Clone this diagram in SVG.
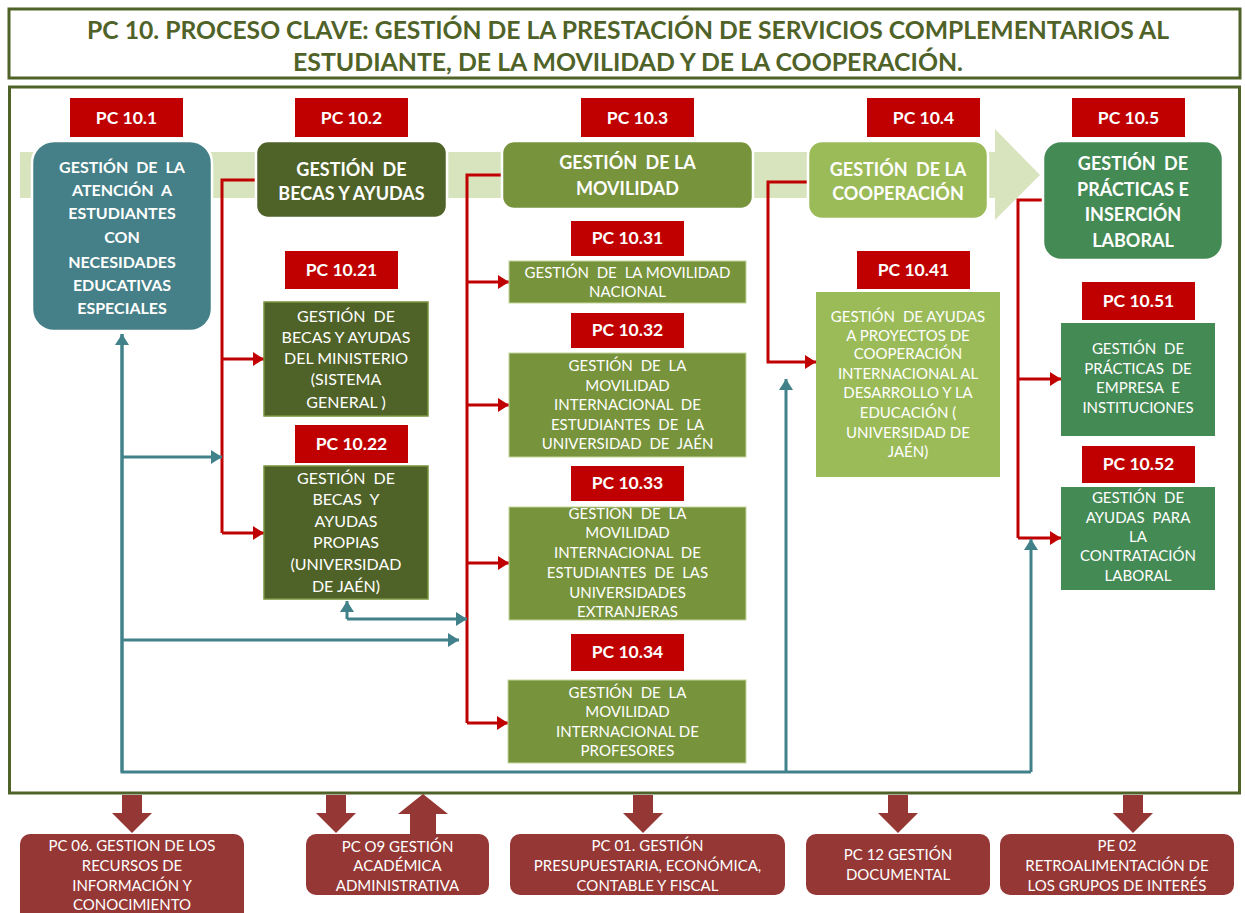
<svg xmlns="http://www.w3.org/2000/svg" width="1245" height="913" viewBox="0 0 1245 913">
<defs>
<style>
.t{font-family:Lato,"Liberation Sans",sans-serif;fill:#fff;text-anchor:middle}
.b{font-weight:bold}
.w{word-spacing:4px}
.lbl{fill:#c00000}
.lt{font-family:Lato,"Liberation Sans",sans-serif;fill:#fff;text-anchor:middle;font-weight:bold;font-size:17.5px}
.rl{fill:none;stroke:#c00000;stroke-width:3}
.tl{fill:none;stroke:#41818a;stroke-width:3}
.bot{fill:#953735}
.bt{font-family:Lato,"Liberation Sans",sans-serif;fill:#fff;text-anchor:middle;font-size:15px}
</style>
<marker id="ra" markerUnits="userSpaceOnUse" markerWidth="13" markerHeight="14" refX="11" refY="7" orient="auto"><path d="M0,0 L11,7 L0,14 Z" fill="#c00000"/></marker>
<marker id="ta" markerUnits="userSpaceOnUse" markerWidth="13" markerHeight="14" refX="11" refY="7" orient="auto"><path d="M0,0 L11,7 L0,14 Z" fill="#41818a"/></marker>
</defs>
<rect width="1245" height="913" fill="#fff"/>

<g id="title">
<rect x="9" y="9" width="1231" height="69" fill="#fff" stroke="#4f6228" stroke-width="3"/>
<text x="628" y="39" font-family="Lato,'Liberation Sans',sans-serif" font-weight="bold" font-size="24" fill="#4f6228" text-anchor="middle" textLength="1082" lengthAdjust="spacingAndGlyphs">PC 10. PROCESO CLAVE: GESTIÓN DE LA PRESTACIÓN DE SERVICIOS COMPLEMENTARIOS AL</text>
<text x="628" y="71" font-family="Lato,'Liberation Sans',sans-serif" font-weight="bold" font-size="24" fill="#4f6228" text-anchor="middle" textLength="670" lengthAdjust="spacingAndGlyphs">ESTUDIANTE, DE LA MOVILIDAD Y DE LA COOPERACIÓN.</text>
</g>

<g id="frame">
<rect x="9.5" y="87" width="1230" height="706" fill="none" stroke="#4f6228" stroke-width="3"/>
</g>

<g id="band">
<polygon points="20,152 995,152 995,129 1040,175 995,220 995,198 20,198" fill="#d7e4bd"/>
</g>

<g id="connectors">
<polyline class="rl" points="256,180 222,180 222,533"/>
<line class="rl" x1="222" y1="359" x2="264" y2="359" marker-end="url(#ra)"/>
<line class="rl" x1="222" y1="533" x2="264" y2="533" marker-end="url(#ra)"/>
<polyline class="rl" points="502,175 467,175 467,723"/>
<line class="rl" x1="467" y1="282" x2="509" y2="282" marker-end="url(#ra)"/>
<line class="rl" x1="467" y1="405" x2="509" y2="405" marker-end="url(#ra)"/>
<line class="rl" x1="467" y1="563" x2="509" y2="563" marker-end="url(#ra)"/>
<line class="rl" x1="467" y1="723" x2="508" y2="723" marker-end="url(#ra)"/>
<polyline class="rl" points="808,182 768,182 768,362 816,362" marker-end="url(#ra)"/>
<polyline class="rl" points="1043,200 1018,200 1018,538"/>
<line class="rl" x1="1018" y1="379" x2="1061" y2="379" marker-end="url(#ra)"/>
<line class="rl" x1="1018" y1="538" x2="1061" y2="538" marker-end="url(#ra)"/>
<polyline class="tl" points="122,334 122,772 1031,772"/>
<line class="tl" x1="122" y1="772" x2="122" y2="334" marker-end="url(#ta)"/>
<line class="tl" x1="786" y1="772" x2="786" y2="379" marker-end="url(#ta)"/>
<line class="tl" x1="1031" y1="772" x2="1031" y2="539" marker-end="url(#ta)"/>
<line class="tl" x1="122" y1="457" x2="222" y2="457" marker-end="url(#ta)"/>
<line class="tl" x1="122" y1="640" x2="459" y2="640" marker-end="url(#ta)"/>
<polyline class="tl" points="347,619 467,619" marker-end="url(#ta)"/>
<line class="tl" x1="347" y1="619" x2="347" y2="601" marker-end="url(#ta)"/>
</g>

<g id="pc10-1">
<rect class="lbl" x="70" y="98" width="113" height="39"/>
<text class="lt" x="126.5" y="123.5">PC 10.1</text>
<rect x="32" y="141" width="180" height="190" rx="22" fill="#457f87" stroke="#fff" stroke-width="2.5"/>
<g class="t b" font-size="16">
<text class="w" x="122" y="173">GESTIÓN  DE  LA</text>
<text class="w" x="122" y="196">ATENCIÓN  A</text>
<text x="122" y="219">ESTUDIANTES</text>
<text x="122" y="243">CON</text>
<text x="122" y="268">NECESIDADES</text>
<text x="122" y="291">EDUCATIVAS</text>
<text x="122" y="314">ESPECIALES</text>
</g>
</g>

<g id="pc10-2">
<rect class="lbl" x="295" y="98" width="113" height="39"/>
<text class="lt" x="351.5" y="123.5">PC 10.2</text>
<rect x="256" y="141" width="191" height="77" rx="12" fill="#4f6228" stroke="#fff" stroke-width="2.5"/>
<g class="t b" font-size="18">
<text class="w" x="351.5" y="175.5">GESTIÓN  DE</text>
<text x="351.5" y="199.5">BECAS Y AYUDAS</text>
</g>
</g>

<g id="pc10-3">
<rect class="lbl" x="581" y="98" width="113" height="39"/>
<text class="lt" x="637.5" y="123.5">PC 10.3</text>
<rect x="502" y="141" width="251" height="68" rx="12" fill="#77933c" stroke="#fff" stroke-width="2.5"/>
<g class="t b" font-size="18">
<text x="627.5" y="168.5"><tspan word-spacing="4">GESTIÓN  </tspan>DE LA</text>
<text x="627.5" y="194.5">MOVILIDAD</text>
</g>
</g>

<g id="pc10-4">
<rect class="lbl" x="867" y="98" width="113" height="39"/>
<text class="lt" x="923.5" y="123.5">PC 10.4</text>
<rect x="808" y="141" width="180" height="78" rx="14" fill="#9bbb59" stroke="#fff" stroke-width="2.5"/>
<g class="t b" font-size="18">
<text x="898" y="175.5"><tspan word-spacing="4">GESTIÓN  </tspan>DE LA</text>
<text x="898" y="199.5">COOPERACIÓN</text>
</g>
</g>

<g id="pc10-5">
<rect class="lbl" x="1072" y="98" width="113" height="39"/>
<text class="lt" x="1128.5" y="123.5">PC 10.5</text>
<rect x="1043" y="141" width="180" height="119" rx="18" fill="#448a54" stroke="#fff" stroke-width="2.5"/>
<g class="t b" font-size="18">
<text class="w" x="1133" y="169.5">GESTIÓN  DE</text>
<text x="1133" y="195.5">PRÁCTICAS E</text>
<text x="1133" y="220.5">INSERCIÓN</text>
<text x="1133" y="246.5">LABORAL</text>
</g>
</g>

<g id="pc10-21">
<rect class="lbl" x="285" y="251" width="113" height="38"/>
<text class="lt" x="341.5" y="276">PC 10.21</text>
<rect x="264" y="302" width="164" height="114" fill="#4f6228" stroke="#77933c" stroke-width="1.5"/>
<g class="t" font-size="16">
<text class="w" x="346" y="322">GESTIÓN  DE</text>
<text x="346" y="343">BECAS Y AYUDAS</text>
<text x="346" y="364">DEL MINISTERIO</text>
<text x="346" y="385">(SISTEMA</text>
<text x="346" y="408">GENERAL )</text>
</g>
</g>

<g id="pc10-22">
<rect class="lbl" x="295" y="425" width="113" height="38"/>
<text class="lt" x="351.5" y="450">PC 10.22</text>
<rect x="264" y="466" width="164" height="133" fill="#4f6228" stroke="#77933c" stroke-width="1.5"/>
<g class="t" font-size="16">
<text class="w" x="346" y="484">GESTIÓN  DE</text>
<text class="w" x="346" y="505">BECAS  Y</text>
<text x="346" y="527">AYUDAS</text>
<text x="346" y="548">PROPIAS</text>
<text x="346" y="570">(UNIVERSIDAD</text>
<text x="346" y="592">DE JAÉN)</text>
</g>
</g>

<g id="pc10-31">
<rect class="lbl" x="571" y="221" width="113" height="35"/>
<text class="lt" x="627.5" y="244">PC 10.31</text>
<rect x="509" y="261" width="237" height="42" fill="#77933c" stroke="#c3d69b" stroke-width="1"/>
<g class="t" font-size="15">
<text x="627.5" y="278"><tspan word-spacing="4">GESTIÓN  DE  </tspan>LA MOVILIDAD</text>
<text x="627.5" y="297">NACIONAL</text>
</g>
</g>

<g id="pc10-32">
<rect class="lbl" x="571" y="313" width="113" height="35"/>
<text class="lt" x="627.5" y="336">PC 10.32</text>
<rect x="509" y="353" width="237" height="104" fill="#77933c" stroke="#c3d69b" stroke-width="1"/>
<g class="t" font-size="15">
<text class="w" x="627.5" y="371">GESTIÓN  DE  LA</text>
<text x="627.5" y="391">MOVILIDAD</text>
<text class="w" x="627.5" y="410">INTERNACIONAL  DE</text>
<text class="w" x="627.5" y="430">ESTUDIANTES  DE  LA</text>
<text class="w" x="627.5" y="449">UNIVERSIDAD  DE  JAÉN</text>
</g>
</g>

<g id="pc10-33">
<rect class="lbl" x="571" y="466" width="113" height="35"/>
<text class="lt" x="627.5" y="489">PC 10.33</text>
<rect x="509" y="507" width="237" height="113" fill="#77933c" stroke="#c3d69b" stroke-width="1"/>
<g class="t" font-size="15">
<text class="w" x="627.5" y="519">GESTIÓN  DE  LA</text>
<text x="627.5" y="538">MOVILIDAD</text>
<text class="w" x="627.5" y="558">INTERNACIONAL  DE</text>
<text class="w" x="627.5" y="578">ESTUDIANTES  DE  LAS</text>
<text x="627.5" y="598">UNIVERSIDADES</text>
<text x="627.5" y="617">EXTRANJERAS</text>
</g>
</g>

<g id="pc10-34">
<rect class="lbl" x="571" y="634" width="113" height="37"/>
<text class="lt" x="627.5" y="658">PC 10.34</text>
<rect x="508" y="680" width="238" height="83" fill="#77933c" stroke="#c3d69b" stroke-width="1"/>
<g class="t" font-size="15">
<text class="w" x="627.5" y="698">GESTIÓN  DE  LA</text>
<text x="627.5" y="717">MOVILIDAD</text>
<text x="627.5" y="737">INTERNACIONAL DE</text>
<text x="627.5" y="756">PROFESORES</text>
</g>
</g>

<g id="pc10-41">
<rect class="lbl" x="857" y="251" width="113" height="38"/>
<text class="lt" x="913.5" y="276">PC 10.41</text>
<rect x="816" y="292" width="184" height="185" fill="#9bbb59"/>
<g class="t" font-size="15">
<text x="908" y="322"><tspan word-spacing="4">GESTIÓN  </tspan>DE AYUDAS</text>
<text x="908" y="341">A PROYECTOS DE</text>
<text x="908" y="359">COOPERACIÓN</text>
<text x="908" y="379">INTERNACIONAL AL</text>
<text x="908" y="398">DESARROLLO Y LA</text>
<text x="908" y="418">EDUCACIÓN (</text>
<text x="908" y="438">UNIVERSIDAD DE</text>
<text x="908" y="457">JAÉN)</text>
</g>
</g>

<g id="pc10-51">
<rect class="lbl" x="1082" y="282" width="113" height="38"/>
<text class="lt" x="1138.5" y="307">PC 10.51</text>
<rect x="1061" y="323" width="154" height="113" fill="#448a54"/>
<g class="t" font-size="15">
<text class="w" x="1138" y="354">GESTIÓN  DE</text>
<text class="w" x="1138" y="374">PRÁCTICAS  DE</text>
<text class="w" x="1138" y="393">EMPRESA  E</text>
<text x="1138" y="413">INSTITUCIONES</text>
</g>
</g>

<g id="pc10-52">
<rect class="lbl" x="1082" y="446" width="113" height="37"/>
<text class="lt" x="1138.5" y="470">PC 10.52</text>
<rect x="1061" y="487" width="154" height="103" fill="#448a54"/>
<g class="t" font-size="15">
<text class="w" x="1138" y="503">GESTIÓN  DE</text>
<text class="w" x="1138" y="523">AYUDAS  PARA</text>
<text x="1138" y="542">LA</text>
<text x="1138" y="561">CONTRATACIÓN</text>
<text x="1138" y="581">LABORAL</text>
</g>
</g>

<g id="bottom-arrows" fill="#953735">
<polygon points="122,795 142,795 142,813 152,813 132,833 112,813 122,813"/>
<polygon points="326,795 346,795 346,813 356,813 336,833 316,813 326,813"/>
<polygon points="410,834 436,834 436,814 448,814 423,794 398,814 410,814"/>
<polygon points="633,795 653,795 653,813 663,813 643,833 623,813 633,813"/>
<polygon points="888,795 908,795 908,813 918,813 898,833 878,813 888,813"/>
<polygon points="1123,795 1143,795 1143,813 1153,813 1133,833 1113,813 1123,813"/>
</g>

<g id="pc06">
<rect class="bot" x="20" y="834" width="224" height="90" rx="10"/>
<text class="bt" x="132" y="851">PC 06. GESTION DE LOS</text>
<text class="bt" x="132" y="871">RECURSOS DE</text>
<text class="bt" x="132" y="891">INFORMACIÓN Y</text>
<text class="bt" x="132" y="910">CONOCIMIENTO</text>
</g>
<g id="pc09">
<rect class="bot" x="306" y="834" width="183" height="61" rx="10"/>
<text class="bt" x="397.5" y="852">PC O9 GESTIÓN</text>
<text class="bt" x="397.5" y="871">ACADÉMICA</text>
<text class="bt" x="397.5" y="891">ADMINISTRATIVA</text>
</g>
<g id="pc01">
<rect class="bot" x="510" y="834" width="275" height="61" rx="10"/>
<text class="bt" x="647.5" y="851">PC 01. GESTIÓN</text>
<text class="bt" x="647.5" y="871">PRESUPUESTARIA, ECONÓMICA,</text>
<text class="bt" x="647.5" y="891">CONTABLE Y FISCAL</text>
</g>
<g id="pc12">
<rect class="bot" x="806" y="834" width="184" height="61" rx="10"/>
<text class="bt" x="898" y="860">PC 12 GESTIÓN</text>
<text class="bt" x="898" y="880">DOCUMENTAL</text>
</g>
<g id="pe02">
<rect class="bot" x="1000" y="834" width="234" height="61" rx="10"/>
<text class="bt" x="1117" y="851">PE 02</text>
<text class="bt" x="1117" y="871">RETROALIMENTACIÓN DE</text>
<text class="bt" x="1117" y="891">LOS GRUPOS DE INTERÉS</text>
</g>
</svg>
